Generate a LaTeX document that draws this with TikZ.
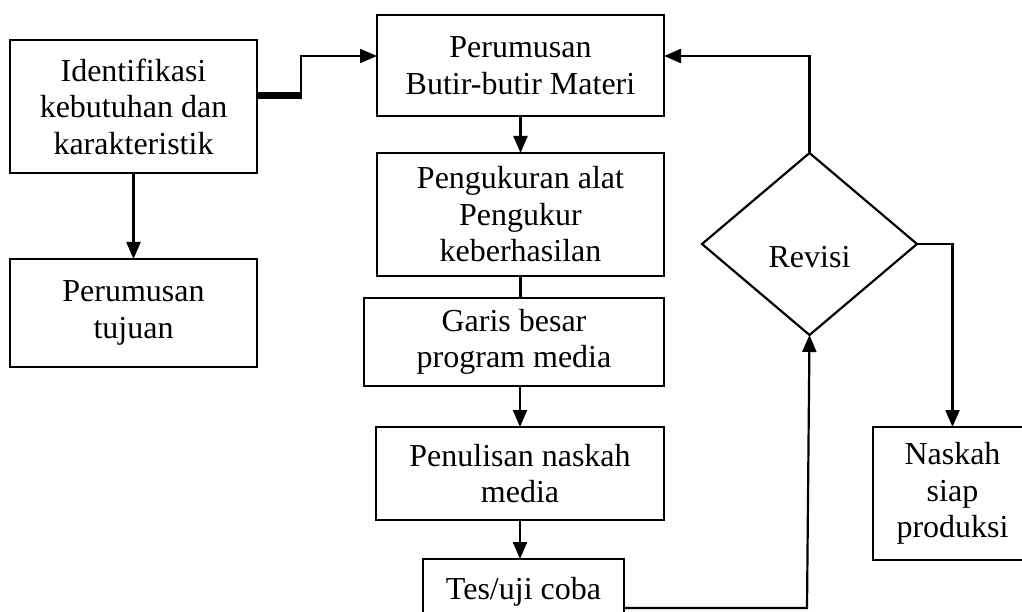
\documentclass[tikz,border=0pt]{standalone}
\usepackage{fontspec}
\setmainfont{Liberation Serif}
\usetikzlibrary{shapes.geometric,arrows.meta}
\begin{document}
\begin{tikzpicture}[x=1pt,y=-1pt,
  box/.style={draw,line width=2.2pt,align=center,inner sep=0pt,outer sep=0pt,
    font=\fontsize{32}{36.5}\selectfont},
  conn/.style={line width=2.2pt},
  arr/.style={line width=2.2pt,-{Triangle[length=17pt,width=14pt]}},
  lbl/.style={font=\fontsize{32}{36.5}\selectfont,inner sep=0pt}]
\useasboundingbox (0,0) rectangle (1022,612);
\clip (0,0) rectangle (1022,612);
\fill[white] (0,0) rectangle (1022,612);
% boxes
\node[box,minimum width=247pt,minimum height=133pt] (idn) at (133.5,106.5) {Identifikasi\\kebutuhan dan\\karakteristik};
\node[box,minimum width=247pt,minimum height=108pt] (tuj) at (133.5,313) {Perumusan\\tujuan};
\node[box,minimum width=287pt,minimum height=101pt] (but) at (520.5,65.5) {Perumusan\\Butir-butir Materi};
\node[box,minimum width=287pt,minimum height=123pt] (ukr) at (520.5,214.5) {Pengukuran alat\\Pengukur\\keberhasilan};
\node[box,minimum width=300pt,minimum height=88pt] (gar) at (514,342) {Garis besar\\program media};
\node[box,minimum width=288pt,minimum height=93pt] (pen) at (520,473.5) {Penulisan naskah\\media};
\node[box,minimum width=201pt,minimum height=65pt] (tes) at (523.5,591.5) {Tes/uji coba};
\node[box,minimum width=159pt,minimum height=133pt] (nas) at (952.5,493.5) {Naskah\\siap\\produksi};
\node[diamond,draw,line width=2.2pt,minimum width=215pt,minimum height=182pt,inner sep=0pt,outer sep=0pt] (rev) at (809.5,244) {};
\node[lbl,anchor=base] (revt) at (809.5,268) {Revisi};
% helper coordinates
\coordinate (k1) at (301,96);
\coordinate (k2) at (301,56);
\coordinate (k3) at (807,608);
% connectors
\draw[arr] (idn.south) -- (tuj.north);
\draw[line width=7pt] (idn.east |- k1) -- ([xshift=1pt]k1);
\draw[arr] (k1) -- (k2) -- (but.west |- k2);
\draw[arr] (but.south) -- (ukr.north);
\draw[conn] (ukr.south) -- (ukr.south |- gar.north);
\draw[arr] (pen.north |- gar.south) -- (pen.north);
\draw[arr] (pen.south) -- (pen.south |- tes.north);
\draw[arr] (tes.east |- k3) -- (k3) -- (rev.south);
\draw[arr] (rev.north) -- (rev.north |- k2) -- (but.east |- k2);
\draw[arr] (rev.east) -| (nas.north);
\end{tikzpicture}
\end{document}
